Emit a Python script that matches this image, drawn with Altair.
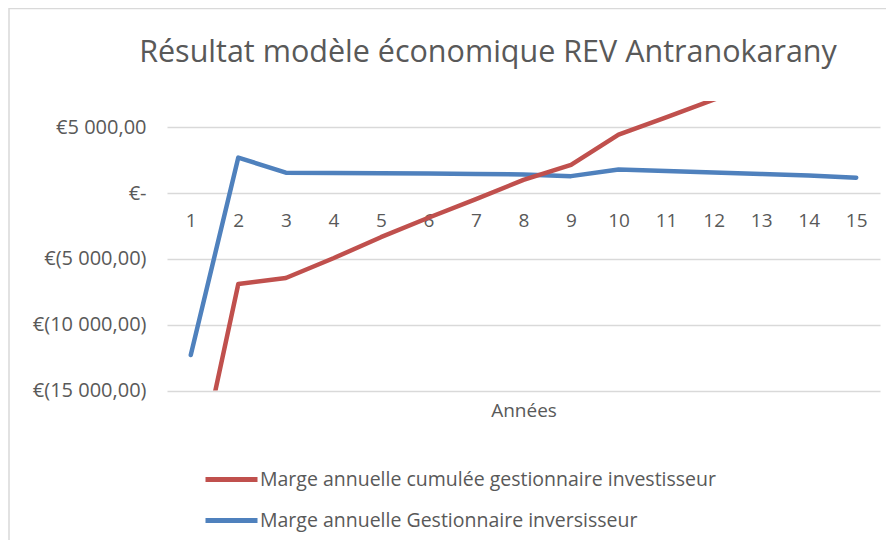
import altair as alt
import pandas as pd

years = list(range(1, 16))
red_name = "Marge annuelle cumulée gestionnaire investisseur"
blue_name = "Marge annuelle Gestionnaire inversisseur"
red_values = [-23700, -6900, -6450, -4950, -3350, -1870, -450, 1000, 2150, 4450, 5750, 7100, 8400, 9700, 11000]
blue_values = [-12300, 2700, 1550, 1520, 1510, 1490, 1460, 1420, 1290, 1790, 1680, 1570, 1460, 1330, 1170]

df = pd.DataFrame(
    {"Année": years * 2,
     "Série": [blue_name] * 15 + [red_name] * 15,
     "Valeur": blue_values + red_values}
)

W, H = 713, 289.5
TXT = "#595959"
FONT = "Open Sans"

ylabel = ("datum.value == 0 ? '€-\u00a0\u00a0\u00a0' : (datum.value > 0 ? '€' : '€(') + "
          "replace(replace(format(abs(datum.value), ',.2f'), ',', ' '), '.', ',') + "
          "(datum.value < 0 ? ')' : '\u00a0')")

lines = alt.Chart(df).mark_line(strokeWidth=4.5, strokeCap="round", strokeJoin="round", clip=True).encode(
    x=alt.X("Année:O", scale=alt.Scale(paddingOuter=0.5),
            axis=alt.Axis(title="Années", labelAngle=0, domain=False, ticks=False, grid=False,
                          offset=-197.5, labelPadding=18, labelFontSize=19, labelColor=TXT,
                          labelFont=FONT, titleFont=FONT, titleFontSize=19, titleColor=TXT,
                          titleFontWeight="normal", titleY=217.5, titleBaseline="middle")),
    y=alt.Y("Valeur:Q", scale=alt.Scale(domain=[-15000, 7000], nice=False, zero=False),
            axis=alt.Axis(title=None, values=[-15000, -10000, -5000, 0, 5000], domain=False, ticks=False,
                          labelExpr=ylabel, labelPadding=21, labelFontSize=20, labelColor=TXT,
                          labelFont=FONT, gridColor="#d9d9d9", gridWidth=1.3)),
    color=alt.Color("Série:N", scale=alt.Scale(domain=[red_name, blue_name], range=["#C0504D", "#4F81BD"]),
                    legend=alt.Legend(title=None, orient="none", legendX=42, legendY=356,
                                      symbolType="M-1.3,0H1.3", symbolSize=1600, symbolStrokeWidth=5,
                                      labelFontSize=19.5, labelColor=TXT, labelFont=FONT, labelOffset=6,
                                      labelLimit=700, rowPadding=8, padding=0)),
)

border = alt.Chart(pd.DataFrame({"a": [0]})).mark_rect(fill=None, stroke="#d9d9d9", strokeWidth=1.5).encode(
    x=alt.value(-158), y=alt.value(-92.5), x2=alt.value(900), y2=alt.value(600)
)

chart = alt.layer(border, lines).properties(
    width=W, height=H,
    padding={"left": 159, "top": 93, "right": 6, "bottom": 149},
    autosize=alt.AutoSizeParams(type="none"),
    title=alt.TitleParams("Résultat modèle économique REV Antranokarany", font=FONT, fontSize=30.5,
                          fontWeight="normal", color=TXT, anchor="middle", orient="none",
                          frame="group", dx=321, dy=-39.5, baseline="alphabetic"),
).configure_view(stroke=None)

chart.save("out.html", embed_options={"renderer": "svg", "actions": False})
